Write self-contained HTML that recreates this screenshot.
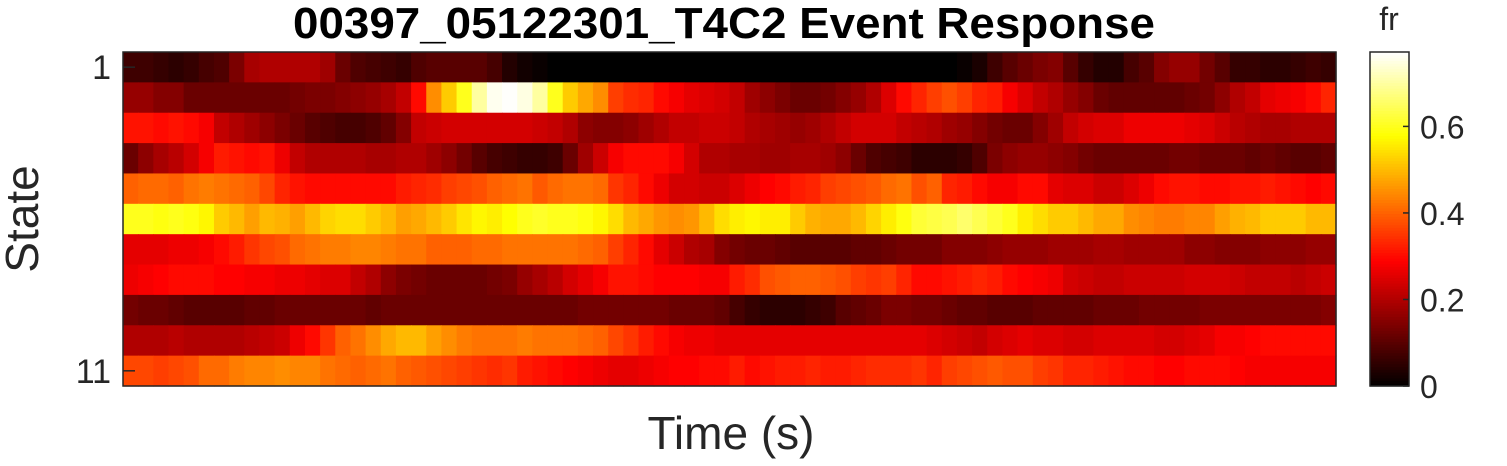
<!DOCTYPE html>
<html><head><meta charset="utf-8"><style>
body{margin:0;background:#fff;width:1507px;height:461px;overflow:hidden;font-family:"Liberation Sans",Arial,sans-serif}
</style></head><body>
<svg id="chart" width="1507" height="461" xmlns="http://www.w3.org/2000/svg">
<text x="724" y="38" text-anchor="middle" font-size="44" font-weight="bold" fill="#000" textLength="862" lengthAdjust="spacingAndGlyphs">00397_05122301_T4C2 Event Response</text>
<g id="cells"></g>
<rect x="123" y="52" width="1213" height="334" fill="none" stroke="#262626" stroke-width="1.5"/>
<g id="yaxis"></g>
<text transform="translate(38,219) rotate(-90)" text-anchor="middle" font-size="46" fill="#262626">State</text>
<text x="731" y="449" text-anchor="middle" font-size="46" fill="#262626">Time (s)</text>
<g id="cbar"></g>
<text x="1389" y="30" text-anchor="middle" font-size="32" fill="#262626">fr</text>
</svg>
<script>
const rowLabels=["1","11"];
const cbTicks=[0,0.2,0.4,0.6];
const cmax=0.772;
const r1=[.07,.07,.06,.05,.06,.08,.09,.14,.19,.2,.2,.2,.2,.18,.12,.09,.08,.07,.06,.09,.1,.1,.1,.1,.08,.04,.02,.01,0,0,0,0,0,0,0,0,0,0,0,0,0,0,0,0,0,0,0,0,0,0,0,0,0,0,0,.01,.03,.07,.1,.12,.14,.15,.1,.06,.04,.04,.08,.1,.15,.17,.17,.13,.1,.06,.06,.05,.05,.06,.07,.06];
const r2=[.17,.17,.15,.15,.12,.12,.12,.12,.12,.12,.12,.13,.14,.14,.15,.16,.17,.19,.22,.3,.45,.52,.6,.7,.76,.77,.75,.7,.6,.52,.48,.45,.36,.34,.33,.3,.28,.26,.25,.24,.22,.18,.16,.14,.12,.12,.13,.15,.17,.2,.25,.3,.33,.36,.38,.36,.33,.32,.28,.25,.22,.2,.17,.15,.12,.11,.11,.11,.11,.11,.12,.13,.16,.2,.22,.26,.27,.28,.3,.33];
const r3=[.31,.31,.3,.31,.3,.28,.22,.2,.18,.16,.14,.12,.1,.09,.08,.08,.09,.11,.15,.22,.23,.24,.24,.24,.24,.24,.24,.23,.22,.2,.16,.15,.15,.16,.18,.2,.22,.22,.23,.23,.22,.2,.19,.18,.17,.18,.2,.22,.24,.24,.24,.22,.21,.2,.18,.17,.15,.13,.12,.12,.15,.18,.22,.24,.25,.25,.27,.27,.27,.27,.26,.25,.23,.21,.2,.19,.19,.2,.2,.2];
const r4=[.12,.16,.19,.21,.24,.28,.32,.31,.3,.31,.27,.22,.2,.2,.2,.2,.19,.19,.2,.2,.18,.16,.13,.1,.08,.07,.06,.06,.07,.12,.18,.23,.28,.3,.3,.3,.28,.24,.2,.2,.19,.19,.18,.18,.19,.19,.18,.16,.12,.09,.08,.07,.05,.05,.05,.06,.09,.14,.16,.17,.17,.16,.15,.13,.12,.12,.12,.12,.12,.13,.13,.12,.12,.12,.11,.12,.11,.1,.1,.11];
const r5=[.4,.41,.41,.4,.42,.43,.42,.41,.4,.37,.33,.31,.3,.3,.3,.3,.3,.3,.32,.33,.34,.36,.37,.38,.4,.41,.42,.39,.41,.42,.42,.41,.35,.33,.3,.27,.24,.24,.23,.23,.25,.27,.29,.3,.32,.33,.36,.37,.38,.39,.41,.42,.38,.4,.33,.32,.3,.28,.28,.3,.3,.26,.25,.25,.23,.23,.25,.27,.3,.31,.31,.3,.3,.31,.31,.32,.31,.3,.29,.3];
const r6=[.6,.6,.59,.6,.59,.57,.52,.5,.47,.5,.49,.47,.5,.53,.54,.54,.52,.5,.47,.48,.5,.52,.55,.57,.56,.58,.6,.61,.6,.6,.59,.57,.54,.5,.48,.46,.45,.46,.5,.54,.56,.57,.56,.56,.52,.49,.48,.48,.5,.53,.56,.59,.62,.63,.64,.66,.64,.62,.6,.56,.54,.52,.52,.5,.48,.48,.45,.44,.43,.43,.44,.44,.47,.49,.5,.52,.52,.52,.5,.5];
const r7=[.26,.26,.26,.27,.27,.28,.3,.32,.35,.37,.38,.41,.42,.43,.43,.44,.44,.43,.42,.42,.4,.4,.4,.41,.41,.42,.42,.42,.42,.42,.41,.4,.36,.33,.3,.26,.23,.2,.19,.15,.13,.12,.12,.11,.1,.1,.1,.1,.11,.11,.12,.13,.13,.13,.15,.15,.15,.16,.17,.17,.17,.18,.18,.18,.19,.19,.18,.18,.18,.18,.16,.16,.15,.15,.15,.16,.16,.16,.17,.17];
const r8=[.27,.28,.29,.3,.3,.3,.29,.29,.28,.28,.27,.27,.26,.25,.25,.22,.2,.16,.14,.13,.12,.12,.12,.12,.13,.14,.17,.19,.21,.24,.26,.28,.31,.31,.3,.29,.29,.29,.28,.28,.32,.34,.38,.39,.4,.4,.39,.38,.36,.35,.36,.33,.3,.3,.31,.32,.33,.32,.3,.29,.28,.27,.24,.23,.22,.22,.23,.23,.23,.23,.24,.24,.24,.23,.22,.22,.22,.21,.22,.23];
const r9=[.13,.12,.12,.11,.1,.1,.1,.1,.11,.11,.12,.12,.12,.12,.12,.12,.11,.12,.12,.12,.12,.12,.12,.12,.12,.12,.12,.12,.12,.12,.13,.13,.13,.13,.13,.13,.12,.12,.12,.11,.08,.06,.05,.05,.05,.06,.07,.1,.11,.12,.14,.14,.13,.13,.12,.11,.11,.1,.1,.1,.11,.11,.11,.11,.12,.12,.12,.13,.13,.13,.13,.14,.14,.14,.14,.14,.14,.14,.14,.15];
const r10=[.2,.2,.2,.21,.2,.2,.2,.2,.21,.22,.23,.27,.3,.35,.4,.42,.45,.48,.5,.5,.47,.45,.43,.42,.42,.42,.43,.42,.42,.42,.41,.4,.37,.35,.32,.3,.28,.27,.27,.26,.26,.26,.26,.26,.26,.26,.26,.26,.26,.26,.26,.26,.26,.25,.24,.23,.22,.24,.25,.26,.25,.25,.24,.24,.25,.25,.25,.25,.24,.24,.25,.26,.28,.28,.29,.3,.3,.3,.3,.3];
const r11=[.37,.37,.36,.37,.38,.41,.41,.43,.44,.44,.45,.44,.44,.42,.41,.4,.41,.42,.4,.39,.38,.37,.36,.35,.34,.35,.32,.31,.3,.29,.28,.27,.26,.26,.27,.28,.29,.29,.3,.3,.32,.3,.31,.32,.32,.33,.32,.32,.33,.34,.34,.34,.35,.33,.36,.37,.38,.39,.38,.38,.36,.35,.33,.33,.32,.31,.3,.3,.29,.29,.3,.3,.3,.29,.28,.28,.28,.28,.28,.28];
const rows=[r1,r2,r3,r4,r5,r6,r7,r8,r9,r10,r11];
const NS="http://www.w3.org/2000/svg";
const px0=123,px1=1336,py0=52,py1=386;
const nCols=r1.length,nRows=rows.length;
const cw=(px1-px0)/nCols,rh=(py1-py0)/nRows;
function xPos(c){return px0+c*cw;}
function yPos(r){return py0+r*rh;}
function hot(v){let t=Math.max(0,Math.min(1,v/cmax));
 const r=Math.min(1,t/0.375),g=Math.max(0,Math.min(1,(t-0.375)/0.375)),b=Math.max(0,Math.min(1,(t-0.75)/0.25));
 return `rgb(${Math.round(r*255)},${Math.round(g*255)},${Math.round(b*255)})`;}
const cells=document.getElementById('cells');
rows.forEach((row,ri)=>row.forEach((v,ci)=>{
 const el=document.createElementNS(NS,'rect');
 el.setAttribute('x',xPos(ci));el.setAttribute('y',yPos(ri));
 el.setAttribute('width',cw+0.6);el.setAttribute('height',rh+0.6);
 el.setAttribute('fill',hot(v));
 
 
 cells.appendChild(el);
}));
const ya=document.getElementById('yaxis');
[[0,rowLabels[0]],[nRows-1,rowLabels[1]]].forEach(([ri,lab])=>{
 const y=yPos(ri)+rh/2;
 const t=document.createElementNS(NS,'line');
 t.setAttribute('x1',px0);t.setAttribute('x2',px0+12);t.setAttribute('y1',y);t.setAttribute('y2',y);
 t.setAttribute('stroke','#262626');t.setAttribute('stroke-width','1.5');
 
 
 ya.appendChild(t);
 const tx=document.createElementNS(NS,'text');
 tx.setAttribute('x',px0-12);tx.setAttribute('y',y+12);tx.setAttribute('text-anchor','end');
 tx.setAttribute('font-size','34');tx.setAttribute('fill','#262626');tx.textContent=lab;
 
 
 ya.appendChild(tx);
});
const cb=document.getElementById('cbar');
const cbx=1370,cbw=39,n=120;
function cbY(v){return py1-(v/cmax)*(py1-py0);}
for(let i=0;i<n;i++){
 const v0=cmax*i/n;
 const el=document.createElementNS(NS,'rect');
 el.setAttribute('x',cbx);el.setAttribute('y',cbY(v0+cmax/n));
 el.setAttribute('width',cbw);el.setAttribute('height',(py1-py0)/n+0.6);
 el.setAttribute('fill',hot(v0+cmax/(2*n)));
 
 
 cb.appendChild(el);
}
const fr=document.createElementNS(NS,'rect');
fr.setAttribute('x',cbx);fr.setAttribute('y',py0);fr.setAttribute('width',cbw);fr.setAttribute('height',py1-py0);
fr.setAttribute('fill','none');fr.setAttribute('stroke','#262626');fr.setAttribute('stroke-width','1.5');


cb.appendChild(fr);
cbTicks.forEach(v=>{
 const y=cbY(v);
 const t=document.createElementNS(NS,'line');
 t.setAttribute('x1',cbx+cbw-6);t.setAttribute('x2',cbx+cbw);t.setAttribute('y1',y);t.setAttribute('y2',y);
 t.setAttribute('stroke','#262626');t.setAttribute('stroke-width','1.5');
 
 
 cb.appendChild(t);
 const tx=document.createElementNS(NS,'text');
 tx.setAttribute('x',cbx+cbw+11);tx.setAttribute('y',y+12);
 tx.setAttribute('font-size','32');tx.setAttribute('fill','#262626');tx.textContent=v===0?'0':v.toFixed(1);
 
 
 cb.appendChild(tx);
});
</script>
</body></html>
